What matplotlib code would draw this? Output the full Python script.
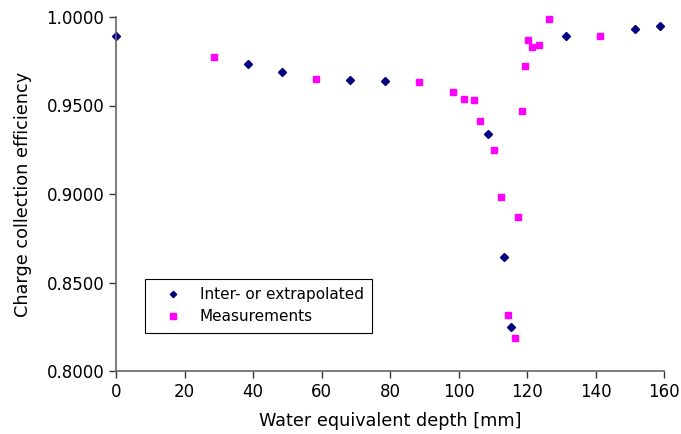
import matplotlib.pyplot as plt

plt.rcParams["font.family"] = ["DejaVu Sans"]

# Charge collection efficiency versus water equivalent depth
interp_depth = [0.0, 38.5, 48.4, 68.4, 78.4, 108.5, 113.4, 115.4, 131.5, 151.4, 158.8]
interp_eff = [0.9894, 0.9733, 0.9691, 0.9644, 0.9638, 0.9337, 0.8644, 0.8250, 0.9894, 0.9934, 0.9949]

meas_depth = [28.5, 58.4, 88.4, 98.4, 101.5, 104.5, 106.4, 110.4, 112.4, 114.4,
              116.4, 117.4, 118.5, 119.4, 120.4, 121.5, 123.4, 126.4, 141.4]
meas_eff = [0.9774, 0.9648, 0.9633, 0.9578, 0.9537, 0.9529, 0.9414, 0.9247, 0.8982, 0.8316,
            0.8185, 0.8868, 0.9471, 0.9725, 0.9870, 0.9832, 0.9840, 0.9987, 0.9893]

x_ticks = [0, 20, 40, 60, 80, 100, 120, 140, 160]
y_ticks = [0.80, 0.85, 0.90, 0.95, 1.00]

fig = plt.figure(figsize=(6.81, 4.34), dpi=100)
ax = fig.add_axes([116 / 681, 63 / 434, 548 / 681, 354 / 434])

ax.plot(interp_depth, interp_eff, linestyle="none", marker="D", markersize=4,
        color="#000080", label="Inter- or extrapolated", clip_on=False)
ax.plot(meas_depth, meas_eff, linestyle="none", marker="s", markersize=5,
        color="#ff00ff", label="Measurements", clip_on=False)

ax.set_xlim(0, 160)
ax.set_ylim(0.8, 1.0)
ax.set_xticks(x_ticks)
ax.set_yticks(y_ticks)
ax.set_yticklabels(["%.4f" % v for v in y_ticks])

for side in ["top", "right"]:
    ax.spines[side].set_visible(False)
for side in ["left", "bottom"]:
    ax.spines[side].set_color("#666666")
    ax.spines[side].set_linewidth(1.2)
ax.tick_params(direction="out", length=5, width=1, color="#333333", labelsize=12)

ax.set_xlabel("Water equivalent depth [mm]", fontsize=12.7, labelpad=8)
ax.set_ylabel("Charge collection efficiency", fontsize=12.7, labelpad=10)

# Legend in a plain rectangular box
leg = ax.legend(loc="upper left", bbox_to_anchor=(145 / 681, 1 - 279 / 434),
                bbox_transform=fig.transFigure, borderaxespad=0, fontsize=11,
                fancybox=False, frameon=True, edgecolor="black", framealpha=1,
                handlelength=2.54, handletextpad=0.5, borderpad=0.55,
                labelspacing=0.45, markerscale=0.8)
leg.get_frame().set_linewidth(0.8)

fig.savefig("out.png", dpi=100)
